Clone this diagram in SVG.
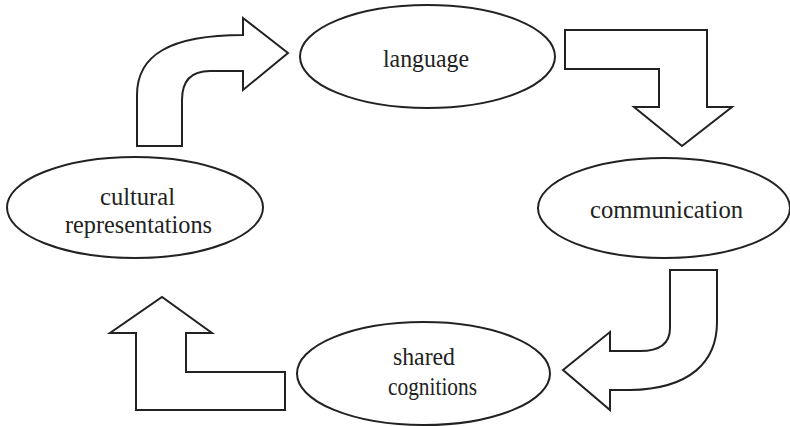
<svg xmlns="http://www.w3.org/2000/svg" width="790" height="426" viewBox="0 0 790 426">
<style>
.shape{fill:#fff;stroke:#222;stroke-width:2;stroke-linejoin:miter}
.lbl{font-family:"Liberation Serif","DejaVu Serif",serif;font-size:26px;fill:#222;text-anchor:middle}
</style>
<rect width="790" height="426" fill="#fff"/>
<g id="connectors">
<path class="shape" d="M137 146 L137 95 C137 55 170 35 243 35 L243 18 L288 53 L243 90 L243 71 L210 71 C190 71 182 82 182 100 L182 146 Z"/>
<path class="shape" d="M565 30 L707 30 L707 107 L732 107 L682 146 L634 107 L659 107 L659 69 L565 69 Z"/>
<path class="shape" d="M670 270 L717 270 L717 322 C717 362 690 389 630 390 L610 390 L610 410 L563 370 L610 332 L610 351 L640 351 C660 351 670 343 670 328 Z"/>
<path class="shape" d="M136 410 L136 333 L110 333 L162 297 L212 333 L186 333 L186 372 L285 372 L285 410 Z"/>
</g>
<g id="language">
<ellipse class="shape" cx="427.5" cy="56.5" rx="127.5" ry="51.5"/>
<text class="lbl" x="426" y="67" textLength="86" lengthAdjust="spacingAndGlyphs">language</text>
</g>
<g id="communication">
<ellipse class="shape" cx="664" cy="208" rx="126" ry="50"/>
<text class="lbl" x="666.5" y="218" textLength="153" lengthAdjust="spacingAndGlyphs">communication</text>
</g>
<g id="shared-cognitions">
<ellipse class="shape" cx="423.5" cy="373.5" rx="126.5" ry="51.5"/>
<text class="lbl" x="424" y="365" textLength="62" lengthAdjust="spacingAndGlyphs">shared</text>
<text class="lbl" x="432.5" y="395" textLength="89" lengthAdjust="spacingAndGlyphs">cognitions</text>
</g>
<g id="cultural-representations">
<ellipse class="shape" cx="135" cy="207.5" rx="128" ry="50.5"/>
<text class="lbl" x="137.5" y="205" textLength="75" lengthAdjust="spacingAndGlyphs">cultural</text>
<text class="lbl" x="138.5" y="233" textLength="147" lengthAdjust="spacingAndGlyphs">representations</text>
</g>
</svg>
